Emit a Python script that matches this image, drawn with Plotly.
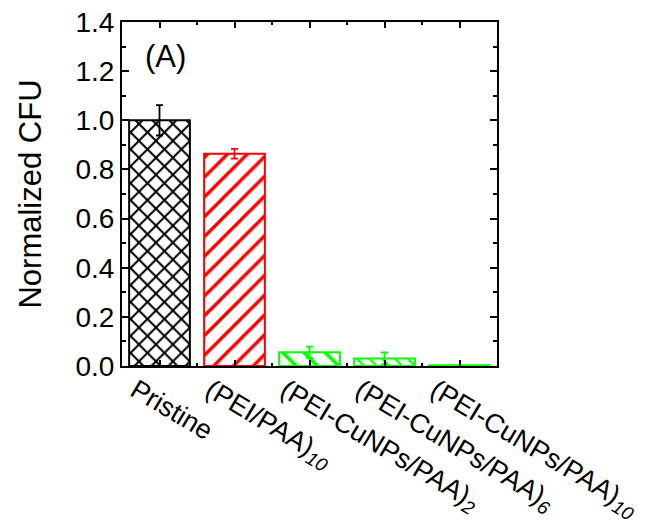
import plotly.graph_objects as go

# Normalized colony-forming units for each coating
categories = ["Pristine", "(PEI/PAA)<sub><i>10</i></sub>",
              "(PEI-CuNPs/PAA)<sub><i>2</i></sub>",
              "(PEI-CuNPs/PAA)<sub><i>6</i></sub>",
              "(PEI-CuNPs/PAA)<sub><i>10</i></sub>"]
cfu = [1.0, 0.864, 0.056, 0.031, 0.003]
cfu_err = [0.062, 0.02, 0.023, 0.024, 0.0]

colors = ["#000000", "#FF0000", "#00FF00", "#00FF00", "#00FF00"]
patterns = ["x", "/", "\\", "\\", "\\"]
pattern_sizes = [12, 14, 15, 9, 15]
pattern_solidity = [0.3, 0.24, 0.24, 0.24, 0.24]

positions = list(range(1, len(categories) + 1))

FONT = "Liberation Sans, Arial, sans-serif"

fig = go.Figure()
for pos, val, err, col, pat, psize, psol in zip(positions, cfu, cfu_err, colors,
                                                patterns, pattern_sizes, pattern_solidity):
    fig.add_trace(go.Bar(
        x=[pos], y=[val], width=0.81,
        marker=dict(color="white",
                    line=dict(color=col, width=2),
                    pattern=dict(shape=pat, fgcolor=col, bgcolor="white",
                                 size=psize, solidity=psol, fillmode="replace")),
        error_y=dict(type="data", array=[err], visible=err > 0,
                     color=col, thickness=1.8, width=3.5),
        showlegend=False,
    ))

fig.update_layout(
    width=660, height=529,
    margin=dict(l=122, r=163, t=22, b=163),
    paper_bgcolor="white", plot_bgcolor="white",
    barmode="overlay",
    font=dict(family=FONT, size=27, color="black"),
    xaxis=dict(range=[0.5, len(categories) + 0.5], automargin=False,
               tickmode="array", tickvals=positions, ticktext=categories,
               tickangle=31, ticklabelshift=-24, ticklabelstandoff=-4,
               ticks="inside", ticklen=6, tickwidth=2,
               tickcolor="black", showline=True, linecolor="black",
               linewidth=2, mirror="ticks", showgrid=False, zeroline=False,
               minor=dict(tickvals=[p + 0.5 for p in positions[:-1]],
                          ticks="inside", ticklen=3, tickwidth=2,
                          tickcolor="black"),
               tickfont=dict(family=FONT, size=27, color="black")),
    yaxis=dict(range=[0, 1.4], automargin=False, tickmode="array",
               tickvals=[0, 0.2, 0.4, 0.6, 0.8, 1.0, 1.2, 1.4],
               ticktext=["0.0", "0.2", "0.4", "0.6", "0.8", "1.0", "1.2", "1.4"],
               ticks="inside", ticklen=7, tickwidth=2, tickcolor="black",
               showline=True, linecolor="black", linewidth=2, mirror="ticks",
               showgrid=False, zeroline=False,
               minor=dict(tickvals=[0.1, 0.3, 0.5, 0.7, 0.9, 1.1, 1.3],
                          ticks="inside", ticklen=4, tickwidth=2,
                          tickcolor="black"),
               title=dict(text="Normalized CFU", standoff=25,
                          font=dict(family=FONT, size=31, color="black")),
               tickfont=dict(family=FONT, size=28, color="black")),
)

fig.add_annotation(x=0.057, y=0.9, xref="paper", yref="paper",
                   text="(A)", showarrow=False, xanchor="left", yanchor="middle",
                   font=dict(family=FONT, size=31, color="black"))

fig.write_html("out.html")
